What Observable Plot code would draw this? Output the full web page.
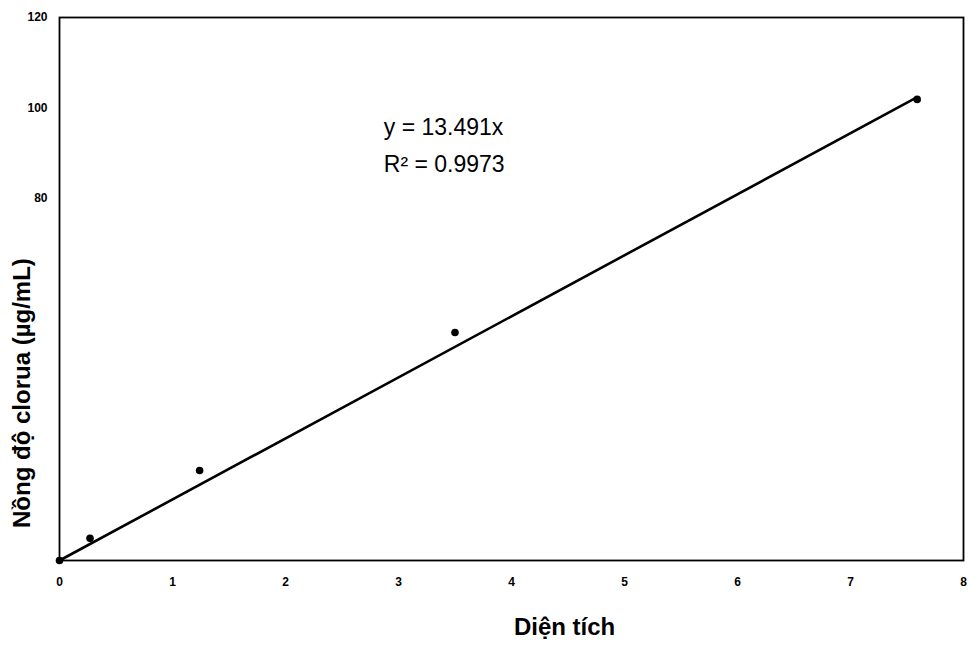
<!DOCTYPE html>
<html>
<head>
<meta charset="utf-8">
<script src="https://cdn.jsdelivr.net/npm/d3@7"></script>
<script src="https://cdn.jsdelivr.net/npm/@observablehq/plot@0.6"></script>
<style>
  body { margin: 0; background: #fff; }
  #chart svg { display: block; }
</style>
</head>
<body>
<div id="chart"></div>
<script>
// Calibration points (area vs chloride concentration)
const areas = [0, 0.27, 1.24, 3.5, 7.59];
const concentrations = [0, 4.9, 19.9, 50.4, 101.9];
// Fitted line y = 13.491x
const slope = 13.491;
const fitX = [0, 7.57];
const xTicks = [0, 1, 2, 3, 4, 5, 6, 7, 8];
const yTicks = [80, 100, 120];
const equationText = "y = 13.491x\nR² = 0.9973";
const xTitle = "Diện tích";
const yTitle = "Nồng độ clorua (µg/mL)";

const points = areas.map((a, i) => ({x: a, y: concentrations[i]}));
const fit = fitX.map(x => ({x, y: slope * x}));

const chart = Plot.plot({
  width: 969,
  height: 645,
  marginLeft: 59,
  marginRight: 6,
  marginTop: 17,
  marginBottom: 85,
  style: {fontFamily: "'Liberation Sans', Arial, sans-serif", background: "#fff", color: "#000"},
  x: {domain: [0, 8], label: null},
  y: {domain: [0, 120], label: null},
  marks: [
    Plot.axisX({ticks: xTicks, tickSize: 0, tickPadding: 17, fontSize: 12, fontWeight: "bold", label: null}),
    Plot.axisY({ticks: yTicks, tickSize: 0, tickPadding: 12, fontSize: 12, fontWeight: "bold", label: null}),
    Plot.frame({stroke: "#000", strokeWidth: 1.8}),
    Plot.line(fit, {x: "x", y: "y", stroke: "#000", strokeWidth: 2.6}),
    Plot.dot(points, {x: "x", y: "y", r: 3.8, fill: "#000", stroke: "none"}),
    Plot.text([equationText], {x: 2.87, y: 92.5, text: d => d, textAnchor: "start", fontSize: 23, lineHeight: 1.6, fill: "#000"}),
    Plot.text([xTitle], {x: 4.47, frameAnchor: "bottom", text: d => d, dy: 74, fontSize: 24, fontWeight: "bold", fill: "#000"}),
    Plot.text([yTitle], {y: 37, frameAnchor: "left", textAnchor: "middle", text: d => d, dx: -37, rotate: -90, fontSize: 24, fontWeight: "bold", fill: "#000"})
  ]
});
document.getElementById("chart").appendChild(chart);
</script>
</body>
</html>
